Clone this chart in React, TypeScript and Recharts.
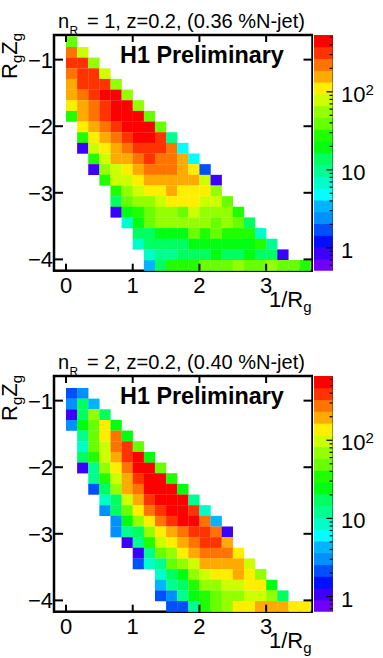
import React from 'react';
import { ScatterChart, Scatter, XAxis, YAxis } from 'recharts';

const rowStartsA = [0, 0, 0, 0, 0, 0, 0, 0, 1, 1, 1, 2, 2, 3, 4, 4, 4, 5, 6, 6, 7, 7];
const rowCountsA = [
  [40],
  [225, 79],
  [319, 319, 56],
  [225, 319, 319, 79],
  [159, 319, 319, 319, 56],
  [159, 225, 319, 451, 451, 56],
  [112, 159, 225, 319, 451, 451, 56],
  [28, 159, 225, 319, 451, 451, 451, 40],
  [112, 159, 225, 319, 451, 451, 451, 40],
  [28, 112, 159, 225, 319, 451, 451, 319, 9.9],
  [0.86, 79, 112, 159, 225, 319, 319, 319, 225, 4.9],
  [28, 79, 159, 159, 225, 319, 225, 225, 159, 4.9],
  [0.86, 56, 79, 112, 159, 225, 225, 225, 159, 112, 1.7],
  [28, 79, 79, 112, 159, 159, 159, 159, 159, 79, 0.86],
  [28, 56, 79, 112, 112, 159, 112, 112, 112, 56],
  [14, 40, 56, 56, 79, 112, 112, 112, 79, 79, 40],
  [0.86, 20, 28, 40, 56, 56, 40, 79, 56, 56, 56, 28],
  [7, 20, 40, 56, 56, 56, 56, 56, 40, 56, 40, 14],
  [14, 14, 20, 20, 20, 40, 28, 40, 28, 28, 28, 7],
  [7, 14, 14, 14, 14, 20, 20, 20, 20, 20, 20, 28, 9.9],
  [7, 9.9, 9.9, 14, 14, 14, 20, 14, 14, 20, 14, 14, 0.86],
  [3.5, 14, 28, 28, 28, 40, 40, 40, 56, 40, 40, 56, 40, 40, 28],
];

const rowStartsB = [0, 0, 0, 0, 0, 1, 1, 1, 1, 2, 2, 3, 3, 4, 4, 5, 6, 6, 8, 8, 8, 9];
const rowCountsB = [
  [],
  [2.2, 3.1],
  [3.1, 17, 4.3],
  [1.09, 17, 70, 17],
  [3.1, 25, 49, 139, 25],
  [12, 49, 139, 278, 25],
  [8.7, 49, 98, 278, 392, 49],
  [17, 35, 98, 197, 392, 555, 25],
  [1.09, 12, 70, 139, 278, 555, 555, 49],
  [12, 35, 98, 197, 392, 555, 555, 35],
  [2.2, 17, 70, 197, 278, 555, 555, 555, 25],
  [8.7, 17, 98, 197, 392, 555, 555, 555, 12],
  [3.1, 17, 49, 139, 278, 392, 555, 555, 392, 8.7],
  [3.1, 25, 70, 139, 278, 392, 555, 555, 278, 4.3],
  [3.1, 12, 17, 70, 139, 197, 278, 392, 392, 278, 1.09],
  [1.09, 12, 35, 98, 139, 197, 278, 392, 392, 197],
  [1.09, 12, 49, 70, 139, 197, 278, 278, 278, 139],
  [2.2, 8.7, 12, 49, 70, 98, 197, 197, 197, 197, 98],
  [8.7, 17, 25, 70, 98, 139, 139, 197, 139, 70],
  [4.3, 12, 17, 35, 70, 70, 98, 98, 139, 139, 25],
  [2.2, 3.1, 12, 25, 35, 49, 70, 70, 98, 98, 70, 17],
  [2.2, 2.2, 12, 35, 49, 70, 139, 139, 197, 197, 197, 139, 139],
];

const bandCountsA = [0.607, 0.859, 1.217, 1.723, 2.44, 3.45, 4.89, 6.92, 9.8, 13.88, 19.65, 27.8, 39.4, 55.8, 79, 111.9, 158.4, 224.3, 317.5, 449.6];
const bandCountsB = [0.761, 1.08, 1.525, 2.16, 3.05, 4.32, 6.12, 8.65, 12.2, 17.3, 24.5, 34.7, 49.1, 69.5, 98.4, 139, 197, 279, 394, 558];

const barTicksA = [0.6, 0.7, 0.8, 0.9, 1, 2, 3, 4, 5, 6, 7, 8, 9, 10, 20, 30, 40, 50, 60, 70, 80, 90, 100, 200, 300, 400, 500];
const barTicksB = [0.7, 0.8, 0.9, 1, 2, 3, 4, 5, 6, 7, 8, 9, 10, 20, 30, 40, 50, 60, 70, 80, 90, 100, 200, 300, 400, 500, 600];

const xTicks = [0, 1, 2, 3];
const yTicks = [-1, -2, -3, -4];

const palette = [
  '#7000ff', '#3c00ff', '#0010ff', '#0050ff', '#0090ff', '#00b4ff', '#00ffff', '#00ffc8', '#00ff90', '#00ff60',
  '#00ff10', '#20ff00', '#68ff00', '#94ff00', '#ccff00', '#ffee00', '#ffaa00', '#ff7400', '#ff3300', '#ff0000',
];

const FONT = '"Liberation Sans", Arial, sans-serif';
const CHART_H = 317;
const FRAME_L = 54;
const FRAME_R = 312.5;
const FRAME_T = 35;
const FRAME_B = 270.7;
const X_DOMAIN: [number, number] = [-0.18, 3.695];
const Y_DOMAIN: [number, number] = [-4.17, -0.63];
const X_BIN = 1 / 6;
const Y_BIN = 0.16;
const Y_FIRST_EDGE = -0.65;
const CELL_W = (X_BIN * (FRAME_R - FRAME_L)) / (X_DOMAIN[1] - X_DOMAIN[0]);
const CELL_H = (Y_BIN * (FRAME_B - FRAME_T)) / (Y_DOMAIN[1] - Y_DOMAIN[0]);
const BAR_W = 18.5;
const BAND_H = (FRAME_B - FRAME_T) / 20;

const bandColour = (count: number, lo: number, hi: number) => {
  const k = Math.floor(((Math.log10(count) - Math.log10(lo)) / (Math.log10(hi) - Math.log10(lo))) * 20);
  return palette[Math.max(0, Math.min(19, k))];
};

const toCells = (starts: number[], rows: number[][]) =>
  rows.flatMap((counts, r) =>
    counts.map((count, i) => ({
      x: (starts[r] + i + 0.5) * X_BIN,
      y: Y_FIRST_EDGE - (r + 0.5) * Y_BIN,
      count,
    })),
  );

// ROOT style: ticks point into the frame, on both opposite sides
const bottomTick = ({ x, payload }: any) => (
  <g>
    <line x1={x} x2={x} y1={FRAME_B} y2={FRAME_B - 7} stroke="#000" strokeWidth={2} />
    <line x1={x} x2={x} y1={FRAME_T} y2={FRAME_T + 7} stroke="#000" strokeWidth={2} />
    <text x={x} y={FRAME_B + 22} textAnchor="middle" fontSize={22} fontFamily={FONT} fill="#000">
      {payload.value}
    </text>
  </g>
);
const leftTick = ({ y, payload }: any) => (
  <g>
    <line x1={FRAME_L} x2={FRAME_L + 9} y1={y} y2={y} stroke="#000" strokeWidth={2} />
    <line x1={FRAME_R} x2={FRAME_R - 9} y1={y} y2={y} stroke="#000" strokeWidth={2} />
    <text x={53} y={y + 8} textAnchor="end" fontSize={22} fontFamily={FONT} fill="#000">
      {`\u2212${Math.abs(payload.value)}`}
    </text>
  </g>
);

const barTick = ({ y, payload }: any) => {
  const v = payload.value;
  const decade = v === 1 || v === 10 || v === 100;
  return (
    <g>
      <line x1={BAR_W} x2={BAR_W - (decade ? 6 : 3)} y1={y} y2={y} stroke="#000" strokeWidth={1.2} />
      {decade && (
        <text x={27} y={y + 10} fontSize={22} fontFamily={FONT} fill="#000">
          {v === 100 ? '10' : v}
          {v === 100 && (
            <tspan fontSize={15} dy={-7}>
              2
            </tspan>
          )}
        </text>
      )}
    </g>
  );
};

const Panel = ({ top, nR, percent, yLabelY, starts, rows, bands, barTicks, barDomain }: any) => {
  const cells = toCells(starts, rows);
  const bandCells = bands.map((count: number) => ({ x: 0.5, y: count }));
  return (
    <div style={{ position: 'absolute', left: 0, top, width: 383, height: CHART_H }}>
      <div style={{ position: 'absolute', left: 0, top: 0 }}>
        <ScatterChart
          width={FRAME_R}
          height={CHART_H}
          margin={{ top: FRAME_T, right: 0, bottom: 0, left: 0 }}
          style={{ overflow: 'visible' }}
        >
          <XAxis
            dataKey="x"
            type="number"
            domain={X_DOMAIN}
            ticks={xTicks}
            interval={0}
            height={CHART_H - FRAME_B}
            axisLine={false}
            tickLine={false}
            tick={bottomTick}
          />
          <YAxis
            dataKey="y"
            type="number"
            domain={Y_DOMAIN}
            ticks={yTicks}
            interval={0}
            width={FRAME_L}
            axisLine={false}
            tickLine={false}
            tick={leftTick}
          />
          <Scatter
            data={cells}
            isAnimationActive={false}
            shape={(p: any) => (
              <rect
                x={p.cx - CELL_W / 2}
                y={p.cy - CELL_H / 2}
                width={CELL_W + 0.2}
                height={CELL_H + 0.2}
                fill={bandColour(p.payload.count, barDomain[0], barDomain[1])}
              />
            )}
          />
          <rect
            x={FRAME_L}
            y={FRAME_T}
            width={FRAME_R - FRAME_L}
            height={FRAME_B - FRAME_T}
            fill="none"
            stroke="#000"
            strokeWidth={2.5}
          />
          <text y={28} fontSize={20} fontFamily={FONT} fill="#000">
            <tspan x={58}>n</tspan>
            <tspan x={69.5} dy={7} fontSize={12}>
              R
            </tspan>
            <tspan x={87} dy={-7}>{`= ${nR}, z=0.2, (${percent} %N-jet)`}</tspan>
          </text>
          <text x={120} y={63} fontSize={23.4} fontWeight="bold" fontFamily={FONT} fill="#000">
            H1 Preliminary
          </text>
          <text x={269} y={307} fontSize={22} fontFamily={FONT} fill="#000">
            1/R
            <tspan fontSize={15} dy={5}>
              g
            </tspan>
          </text>
          <text transform={`rotate(-90 17 ${yLabelY})`} x={17} y={yLabelY} fontSize={22} fontFamily={FONT} fill="#000">
            R
            <tspan fontSize={15} dy={5}>
              g
            </tspan>
            <tspan dy={-5}>Z</tspan>
            <tspan fontSize={15} dy={5}>
              g
            </tspan>
          </text>
        </ScatterChart>
      </div>
      <div style={{ position: 'absolute', left: FRAME_R + 1, top: 0 }}>
        <ScatterChart
          width={383 - FRAME_R - 1}
          height={CHART_H}
          margin={{ top: FRAME_T, right: 0, bottom: CHART_H - FRAME_B, left: 0 }}
        >
          <XAxis dataKey="x" type="number" domain={[0, 1]} hide />
          <YAxis
            dataKey="y"
            type="number"
            scale="log"
            orientation="right"
            domain={barDomain}
            ticks={barTicks}
            interval={0}
            width={383 - FRAME_R - 1 - BAR_W}
            stroke="#333"
            strokeWidth={1}
            tickLine={false}
            tick={barTick}
            allowDataOverflow
          />
          <Scatter
            data={bandCells}
            isAnimationActive={false}
            shape={(p: any) => (
              <rect
                x={p.cx - BAR_W / 2}
                y={p.cy - BAND_H / 2 - 0.5}
                width={BAR_W}
                height={BAND_H + 1}
                fill={bandColour(p.payload.y, barDomain[0], barDomain[1])}
              />
            )}
          />
        </ScatterChart>
      </div>
    </div>
  );
};

export default function App() {
  return (
    <div style={{ position: 'absolute', left: 0, top: 0, width: 383, height: 658, overflow: 'hidden', background: '#fff' }}>
      <Panel
        top={0}
        nR={1}
        percent="0.36"
        yLabelY={79}
        starts={rowStartsA}
        rows={rowCountsA}
        bands={bandCountsA}
        barTicks={barTicksA}
        barDomain={[0.51, 535]}
      />
      <Panel
        top={341}
        nR={2}
        percent="0.40"
        yLabelY={80}
        starts={rowStartsB}
        rows={rowCountsB}
        bands={bandCountsB}
        barTicks={barTicksB}
        barDomain={[0.64, 664]}
      />
    </div>
  );
}
